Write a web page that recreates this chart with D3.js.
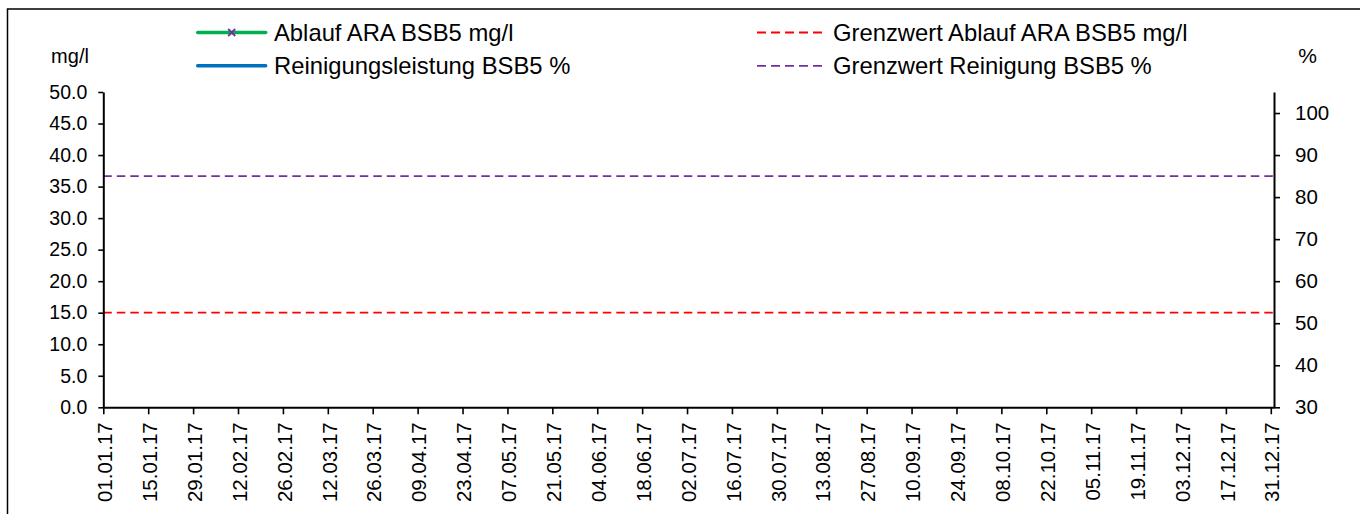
<!DOCTYPE html>
<html>
<head>
<meta charset="utf-8">
<script src="https://cdn.jsdelivr.net/npm/d3@7"></script>
<style>
  html, body { margin: 0; padding: 0; background: #fff; }
  svg { display: block; font-family: "Liberation Sans", Arial, sans-serif; }
</style>
</head>
<body>
<svg id="chart" width="1360" height="514"></svg>
<script>
// ---- data ----
const tickDates = ["01.01.17","15.01.17","29.01.17","12.02.17","26.02.17","12.03.17","26.03.17",
  "09.04.17","23.04.17","07.05.17","21.05.17","04.06.17","18.06.17","02.07.17","16.07.17",
  "30.07.17","13.08.17","27.08.17","10.09.17","24.09.17","08.10.17","22.10.17","05.11.17",
  "19.11.17","03.12.17","17.12.17","31.12.17"];
const ablaufValues = [];          // Ablauf ARA BSB5 mg/l (no data)
const reinigungValues = [];       // Reinigungsleistung BSB5 % (no data)
const grenzAblauf = [15, 15];     // Grenzwert Ablauf ARA BSB5 mg/l
const grenzReinigung = [85, 85];  // Grenzwert Reinigung BSB5 %
const leftTicks = [0, 5, 10, 15, 20, 25, 30, 35, 40, 45, 50];
const rightTicks = [30, 40, 50, 60, 70, 80, 90, 100];
const legendLabels = ["Ablauf ARA BSB5 mg/l", "Reinigungsleistung BSB5 %",
  "Grenzwert Ablauf ARA BSB5 mg/l", "Grenzwert Reinigung BSB5 %"];

// ---- setup ----
const parse = d3.timeParse("%d.%m.%y");
const fmt = d3.timeFormat("%d.%m.%y");
const svg = d3.select("#chart");
const L = 103.3, R = 1274, T = 92, B = 407.3;
const start = parse("01.01.17"), end = parse("01.01.18");
const x = d3.scaleTime().domain([start, end]).range([L, R]);
const yL = d3.scaleLinear().domain([0, 50]).range([B, T]);
const yR = d3.scaleLinear().domain([30, 105]).range([B, T]);

// outer border
svg.append("rect").attr("x", 7.5).attr("y", 9).attr("width", 1400).attr("height", 600)
  .attr("fill", "none").attr("stroke", "#000").attr("stroke-width", 1.5);

// limit lines
const limitDates = [start, end];
const lineL = d3.line().x((d, i) => x(limitDates[i])).y(d => yL(d));
const lineR = d3.line().x((d, i) => x(limitDates[i])).y(d => yR(d));
svg.append("path").datum(grenzAblauf).attr("d", lineL)
  .attr("fill", "none").attr("stroke", "#FF0000").attr("stroke-width", 1.8).attr("stroke-dasharray", "8.5,5");
svg.append("path").datum(grenzReinigung).attr("d", lineR)
  .attr("fill", "none").attr("stroke", "#7030A0").attr("stroke-width", 1.8).attr("stroke-dasharray", "8.5,5");

// data series (empty)
svg.append("path").datum(ablaufValues).attr("d", d3.line().x(d => x(d.date)).y(d => yL(d.v)))
  .attr("fill", "none").attr("stroke", "#00B050").attr("stroke-width", 3);
svg.append("path").datum(reinigungValues).attr("d", d3.line().x(d => x(d.date)).y(d => yR(d.v)))
  .attr("fill", "none").attr("stroke", "#0070C0").attr("stroke-width", 3);

// axes
function styleAxis(g) {
  g.selectAll("path.domain").attr("stroke", "#000").attr("stroke-width", 2);
  g.selectAll(".tick line").attr("stroke", "#000").attr("stroke-width", 1.6);
  g.selectAll("text").attr("fill", "#000").attr("font-family", '"Liberation Sans", Arial, sans-serif');
}

const gL = svg.append("g").attr("transform", `translate(${L},0)`)
  .call(d3.axisLeft(yL).tickValues(leftTicks).tickFormat(d3.format(".1f")).tickSize(5).tickSizeOuter(0).tickPadding(11));
styleAxis(gL);
gL.selectAll("text").attr("font-size", 19.5);

const gR = svg.append("g").attr("transform", `translate(${R},0)`)
  .call(d3.axisRight(yR).tickValues(rightTicks).tickFormat(d3.format("d")).tickSize(6).tickSizeOuter(0).tickPadding(15));
styleAxis(gR);
gR.selectAll("text").attr("font-size", 20.5);

const gX = svg.append("g").attr("transform", `translate(0,${B})`)
  .call(d3.axisBottom(x).tickValues(tickDates.map(parse)).tickFormat(fmt).tickSize(7).tickSizeOuter(0));
styleAxis(gX);
gX.selectAll("text")
  .attr("font-size", 20.5)
  .attr("text-anchor", "end")
  .attr("transform", "rotate(-90)")
  .attr("x", -15).attr("y", 0).attr("dy", "0.4em");

// axis unit labels
svg.append("text").attr("x", 70).attr("y", 63).attr("text-anchor", "middle")
  .attr("font-size", 20).text("mg/l");
svg.append("text").attr("x", 1307.5).attr("y", 63).attr("text-anchor", "middle")
  .attr("font-size", 21).text("%");

// legend
const legend = svg.append("g").attr("font-size", 23.8);
const leg = [
  {x0: 197.7, x1: 265.7, tx: 274, y: 32.5, base: 41, color: "#00B050", type: "solid", marker: true},
  {x0: 197.7, x1: 265.7, tx: 274, y: 65.8, base: 73.5, color: "#0070C0", type: "solid"},
  {x0: 757, x1: 822, tx: 833, y: 32.5, base: 41, color: "#FF0000", type: "dash"},
  {x0: 757, x1: 822, tx: 833, y: 65.8, base: 73.5, color: "#7030A0", type: "dash"}
];
leg.forEach((d, i) => {
  legend.append("line").attr("x1", d.x0).attr("x2", d.x1).attr("y1", d.y).attr("y2", d.y)
    .attr("stroke", d.color)
    .attr("stroke-width", d.type === "solid" ? 3.5 : 1.8)
    .attr("stroke-linecap", d.type === "solid" ? "round" : "butt")
    .attr("stroke-dasharray", d.type === "dash" ? "9,5" : null);
  if (d.marker) {
    const cx = (d.x0 + d.x1) / 2, s = 3.5;
    legend.append("path")
      .attr("d", `M${cx - s},${d.y - s}L${cx + s},${d.y + s}M${cx - s},${d.y + s}L${cx + s},${d.y - s}`)
      .attr("stroke", "#7030A0").attr("stroke-width", 1.8);
  }
  legend.append("text").attr("x", d.tx).attr("y", d.base).attr("fill", "#000").text(legendLabels[i]);
});
</script>
</body>
</html>
